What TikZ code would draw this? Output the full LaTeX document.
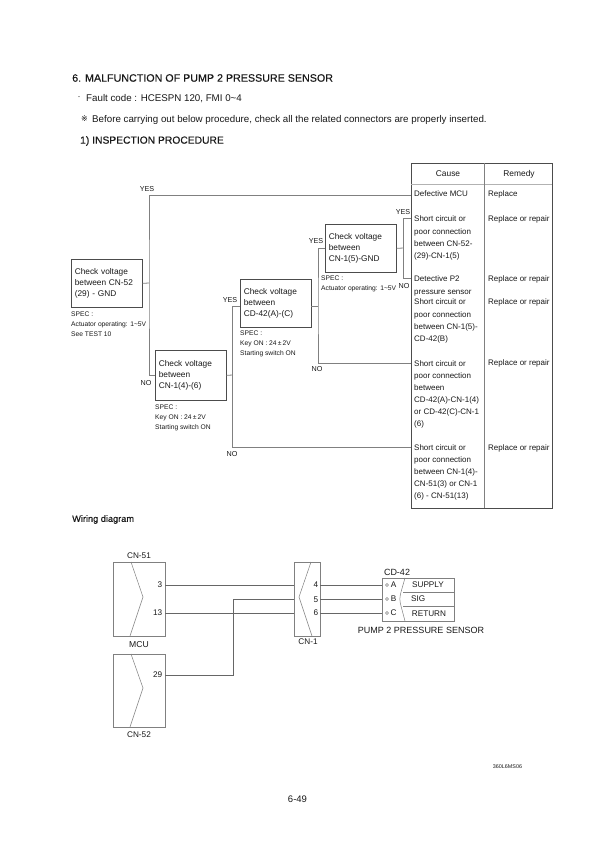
\documentclass[tikz,border=0pt]{standalone}
\usepackage{fontspec}
\setmainfont{Liberation Sans}
\newfontfamily\symfont{DejaVu Sans}
\newfontfamily\medfont[FakeBold=0.25]{Liberation Sans}
\newcommand{\fz}[2]{\fontsize{#1}{#2}\selectfont}
\definecolor{ink}{gray}{0.1}
\definecolor{edge}{gray}{0.3}
\definecolor{wire}{gray}{0.5}
\tikzset{
  txt/.style={inner sep=0pt,text=ink,anchor=north west,align=left},
  ctr/.style={inner sep=0pt,text=ink,anchor=center},
  title/.style={txt,font=\medfont\fz{10.7}{13}},
  body/.style={txt,font=\fz{9.75}{11}},
  chkbox/.style={draw=edge,line width=0.7pt,anchor=north west,inner xsep=3.5pt,inner ysep=0pt,
    text width=64pt,align=left,font=\fz{8.3}{11},text=ink,minimum width=71pt},
  spec/.style={txt,font=\fz{6.7}{10}},
  cell/.style={txt,font=\fz{8}{12.1}},
  yn/.style={ctr,font=\fz{7.2}{9}},
  lnk/.style={draw=wire,line width=0.8pt},
  wir/.style={draw=wire!80!black,line width=0.55pt},
  chev/.style={draw=wire,line width=0.5pt},
  lab/.style={ctr,font=\fz{8.2}{10}},
}
\begin{document}
\begin{tikzpicture}[x=1pt,y=-1pt]
\useasboundingbox[fill=white] (0,0) rectangle (595,842);
% headings
\node[title] (h1) at (72,74) {6. MALFUNCTION OF PUMP 2 PRESSURE SENSOR};
\node[ctr,font=\fz{9}{11}] (dot) at (79,98) {·};
\node[body] (h2) at (86,94.5) {Fault code : HCESPN 120, FMI 0\textasciitilde4};
\node[ctr,font=\symfont\fz{8}{10}] (ref) at (84.5,119) {※};
\node[body] (h3) at (92,115.5) {Before carrying out below procedure, check all the related connectors are properly inserted.};
\node[txt,font=\medfont\fz{10.3}{12}] (h4) at (80,136) {1) INSPECTION PROCEDURE};
% check boxes
\node[chkbox,minimum height=48pt] (b1) at (71,259) {Check voltage\\between CN-52\\(29) - GND};
\node[chkbox,minimum height=50pt] (b2) at (155,350) {Check voltage\\between\\CN-1(4)-(6)};
\node[chkbox,minimum height=48pt] (b3) at (240,279) {Check voltage\\between\\CD-42(A)-(C)};
\node[chkbox,minimum height=48pt] (b4) at (325,224) {Check voltage\\between\\CN-1(5)-GND};
% specs
\node[spec] (s1) at (71,311.5) {SPEC :\\Actuator operating: 1\textasciitilde5V\\See TEST 10};
\node[spec] (s2) at (155,404.5) {SPEC :\\Key ON : 24\,±\,2V\\Starting switch ON};
\node[spec] (s3) at (240,330.5) {SPEC :\\Key ON : 24\,±\,2V\\Starting switch ON};
\node[spec] (s4) at (321,275.5) {SPEC :\\Actuator operating: 1\textasciitilde5V};
% table
\node[draw=edge,line width=0.9pt,anchor=north west,inner sep=0pt,minimum width=141pt,minimum height=345pt] (tbl) at (411,163) {};
\coordinate (hl) at (411,184.5);
\coordinate (hr) at (552,184.5);
\coordinate (vt) at (484,163);
\coordinate (vb) at (484,508);
\draw[draw=gray!60,line width=1.2pt] (hl) -- (hr);
\draw[draw=wire,line width=0.8pt] (vt) -- (vb);
\node[ctr,font=\fz{8.4}{10}] (tc) at (448,174) {Cause};
\node[ctr,font=\fz{8.4}{10}] (tr) at (519,174) {Remedy};
\node[cell] (c1) at (414,191) {Defective MCU};
\node[cell] (c2) at (414,216) {Short circuit or\\poor connection\\between CN-52-\\(29)-CN-1(5)};
\node[cell] (c3) at (414,276) {Detective P2\\pressure sensor};
\node[cell] (c4) at (414,299) {Short circuit or\\poor connection\\between CN-1(5)-\\CD-42(B)};
\node[cell] (c5) at (414,360) {Short circuit or\\poor connection\\between\\CD-42(A)-CN-1(4)\\or CD-42(C)-CN-1\\(6)};
\node[cell] (c6) at (414,444) {Short circuit or\\poor connection\\between CN-1(4)-\\CN-51(3) or CN-1\\(6) - CN-51(13)};
\node[cell] (r1) at (488,191) {Replace};
\node[cell] (r2) at (488,216) {Replace or repair};
\node[cell] (r3) at (488,276) {Replace or repair};
\node[cell] (r4) at (488,299) {Replace or repair};
\node[cell] (r5) at (488,360) {Replace or repair};
\node[cell] (r6) at (488,444) {Replace or repair};
% flow connector coordinates
\coordinate (t1) at (411,195);
\coordinate (t2) at (411,218);
\coordinate (t3) at (411,278);
\coordinate (t4) at (411,363);
\coordinate (t5) at (411,447);
\coordinate (j1) at (149,283);
\coordinate (j2) at (232.7,375);
\coordinate (j3) at (318,306);
\coordinate (j4) at (403.7,248);
\coordinate (k3l) at (240,306);
\coordinate (k3r) at (311,306);
% flow connectors
\draw[lnk] (b1.east) -- (j1);
\draw[lnk] (t1) -| (j1) |- (b2.west);
\draw[lnk] (b2.east) -- (j2);
\draw[lnk] (k3l) -| (j2) |- (t5);
\draw[lnk] (k3r) -- (j3);
\draw[lnk] (b4.west) -| (j3) |- (t4);
\draw[lnk] (b4.east) -- (j4);
\draw[lnk] (t2) -| (j4) |- (t3);
% yes / no
\node[yn] (y1) at (147,189) {YES};
\node[yn] (y2) at (230,300) {YES};
\node[yn] (y3) at (316,241) {YES};
\node[yn] (y4) at (403,212) {YES};
\node[yn] (n1) at (146,383) {NO};
\node[yn] (n2) at (232,454) {NO};
\node[yn] (n3) at (317,369) {NO};
\node[yn] (n4) at (404,286) {NO};
% wiring
\node[txt,font=\medfont\fz{9.2}{11}] (wd) at (72,515) {Wiring diagram};
\node[draw=wire,line width=0.7pt,anchor=north west,inner sep=0pt,minimum width=52pt,minimum height=74pt] (m1) at (113,562) {};
\node[draw=wire,line width=0.7pt,anchor=north west,inner sep=0pt,minimum width=52pt,minimum height=73pt] (m2) at (113,654) {};
\node[draw=wire,line width=0.7pt,anchor=north west,inner sep=0pt,minimum width=26pt,minimum height=74pt] (cn) at (294,562) {};
\node[draw=wire,line width=0.7pt,anchor=north west,inner sep=0pt,minimum width=72pt,minimum height=43pt] (sn) at (382,578) {};
\draw[chev] (131,562) -- (143,597) -- (130,636);
\draw[chev] (131,654) -- (143,688) -- (130,727);
\draw[chev] (311,562) -- (299,597) -- (312,636);
\draw[chev] (405,578) -- (401,592) .. controls (399.5,598) and (399.5,600) .. (401,606) -- (405,621);
\coordinate (sa) at (403,592);
\coordinate (sb) at (454,592);
\coordinate (sc) at (403,606);
\coordinate (sd) at (454,606);
\draw[chev] (sa) -- (sb);
\draw[chev] (sc) -- (sd);
% wire coordinates
\coordinate (p3) at (165,585);
\coordinate (p13) at (165,613);
\coordinate (p29) at (165,675);
\coordinate (ci4) at (294,585);
\coordinate (ci5) at (294,599);
\coordinate (ci6) at (294,613);
\coordinate (co4) at (320,585);
\coordinate (co5) at (320,599);
\coordinate (co6) at (320,613);
\coordinate (sa4) at (382,585);
\coordinate (sa5) at (382,599);
\coordinate (sa6) at (382,613);
\coordinate (bend) at (233,599);
\draw[wir] (p3) -- (ci4);
\draw[wir] (p13) -- (ci6);
\draw[wir] (p29) -| (bend) -- (ci5);
\draw[wir] (co4) -- (sa4);
\draw[wir] (co5) -- (sa5);
\draw[wir] (co6) -- (sa6);
% pin marks
\node[draw=wire,circle,line width=0.4pt,inner sep=0pt,minimum size=3pt] (oa) at (387,585) {};
\node[draw=wire,circle,line width=0.4pt,inner sep=0pt,minimum size=3pt] (ob) at (387,599) {};
\node[draw=wire,circle,line width=0.4pt,inner sep=0pt,minimum size=3pt] (oc) at (387,613) {};
\node[lab] (la) at (393.5,585) {A};
\node[lab] (lb) at (393.5,599) {B};
\node[lab] (lc) at (393.5,613) {C};
\node[lab] (ls1) at (428,585) {SUPPLY};
\node[lab,anchor=west] (ls2) at (411,599) {SIG};
\node[lab] (ls3) at (429,613.5) {RETURN};
\node[lab,anchor=east] (n3x) at (162.5,585) {3};
\node[lab,anchor=east] (n13) at (162.5,613) {13};
\node[lab,anchor=east] (n29) at (162.5,675) {29};
\node[lab] (n4x) at (316,585) {4};
\node[lab] (n5x) at (316,599.5) {5};
\node[lab] (n6x) at (316,613) {6};
\node[lab] (l51) at (139,556) {CN-51};
\node[lab,font=\fz{8.6}{10}] (lmcu) at (139,645) {MCU};
\node[lab] (l52) at (139,735) {CN-52};
\node[lab] (l1) at (308,642) {CN-1};
\node[lab,font=\fz{9}{10}] (l42) at (397,572) {CD-42};
\node[lab,font=\fz{9}{10}] (lpump) at (421,630) {PUMP 2 PRESSURE SENSOR};
\node[ctr,font=\fz{5.4}{6}] (foot) at (507.5,767) {360L6MS06};
\node[ctr,font=\fz{9.5}{11}] (pg) at (297.5,799) {6-49};
\end{tikzpicture}
\end{document}
